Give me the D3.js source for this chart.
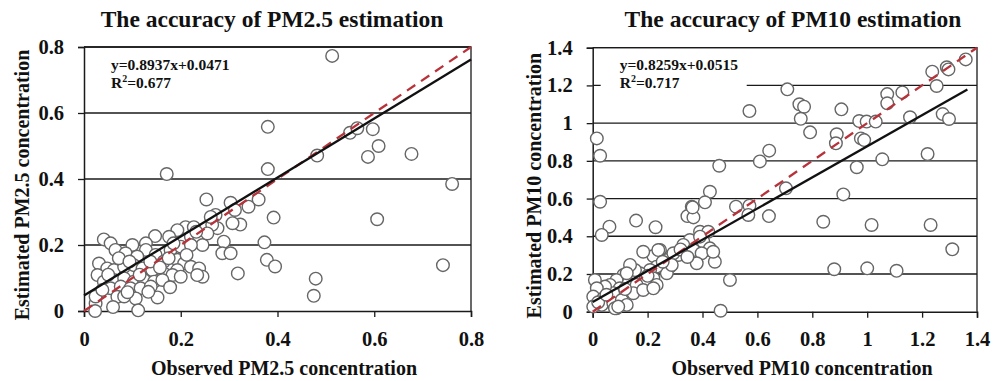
<!DOCTYPE html>
<html>
<head>
<meta charset="utf-8">
<script src="https://cdn.jsdelivr.net/npm/d3@7"></script>
<style>
  body { margin: 0; background: #fff; }
  svg text { font-family: "Liberation Serif", "Times New Roman", serif; font-weight: bold; fill: #111; }
</style>
</head>
<body>
<svg id="chart" width="1003" height="381"></svg>
<script>
// PM2.5 panel: [observed, estimated]
const pm25Points = [
  [0.513,0.773],[0.380,0.558],[0.380,0.430],[0.482,0.471],[0.550,0.540],[0.565,0.554],[0.597,0.551],
  [0.609,0.500],[0.587,0.467],[0.677,0.476],[0.761,0.385],[0.361,0.338],[0.340,0.316],[0.392,0.283],
  [0.606,0.278],[0.373,0.208],[0.378,0.155],[0.395,0.135],[0.742,0.139],[0.479,0.098],[0.475,0.046],
  [0.323,0.262],[0.318,0.114],[0.171,0.415],
  [0.253,0.338],[0.303,0.328],[0.312,0.306],[0.272,0.291],[0.307,0.266],[0.276,0.251],[0.265,0.261],
  [0.210,0.254],[0.227,0.254],[0.193,0.245],[0.176,0.225],[0.147,0.227],[0.221,0.225],[0.238,0.225],
  [0.289,0.210],[0.245,0.200],[0.286,0.175],[0.303,0.175],
  [0.041,0.217],[0.055,0.205],[0.065,0.185],[0.100,0.200],[0.128,0.205],[0.128,0.185],[0.086,0.175],
  [0.110,0.165],[0.148,0.170],[0.179,0.185],[0.200,0.195],[0.221,0.200],[0.193,0.155],[0.165,0.150],
  [0.207,0.144],[0.221,0.134],[0.238,0.129],[0.245,0.104],[0.193,0.124],
  [0.031,0.144],[0.048,0.129],[0.028,0.109],[0.062,0.124],[0.083,0.134],[0.103,0.139],[0.121,0.129],
  [0.141,0.124],[0.165,0.114],[0.183,0.109],[0.200,0.104],[0.234,0.109],
  [0.041,0.089],[0.062,0.094],[0.083,0.099],[0.103,0.089],[0.124,0.094],[0.145,0.089],[0.162,0.094],
  [0.055,0.069],[0.076,0.074],[0.096,0.069],[0.117,0.069],[0.138,0.074],[0.178,0.072],
  [0.107,0.038],[0.152,0.041],[0.069,0.043],[0.024,0.023],[0.060,0.012],[0.112,0.002],[0.023,0.000],
  [0.024,0.044],[0.083,0.044],[0.038,0.064],
  [0.072,0.160],[0.094,0.150],[0.137,0.150],[0.157,0.132],[0.175,0.160],[0.212,0.170],[0.255,0.235],
  [0.050,0.110],[0.115,0.110],[0.133,0.058],[0.090,0.057],[0.185,0.205],[0.232,0.240],[0.262,0.285]
];

// PM10 panel: [observed, estimated]
const pm10Points = [
  [1.359,1.338],[1.290,1.296],[1.296,1.285],[1.237,1.273],[1.253,1.197],[0.709,1.179],[0.571,1.064],
  [0.753,1.100],[0.770,1.087],[0.758,1.023],[0.792,0.951],[0.906,1.073],[0.889,0.941],[0.886,0.893],
  [0.971,1.011],[0.998,1.008],[1.031,1.008],[0.977,0.919],[0.989,0.910],[1.073,1.154],[1.073,1.105],
  [1.128,1.163],[1.156,1.031],[1.275,1.048],[1.298,1.022],[1.220,0.836],[1.055,0.808],[0.962,0.766],
  [0.643,0.854],[0.609,0.797],[0.461,0.774],[0.704,0.654],[0.913,0.622],[0.427,0.636],[0.409,0.580],
  [0.522,0.557],[0.571,0.562],[0.567,0.513],[0.642,0.507],[0.840,0.477],[1.016,0.460],[1.231,0.460],
  [1.310,0.331],[0.880,0.225],[1.000,0.230],[1.107,0.217],[0.500,0.168],[0.466,0.005],[0.445,0.265],
  [0.421,0.327],[0.015,0.919],[0.027,0.827],
  [0.027,0.583],[0.061,0.451],[0.033,0.407],[0.158,0.483],[0.229,0.448],[0.361,0.557],[0.345,0.507],
  [0.367,0.500],[0.364,0.553],
  [0.391,0.424],[0.421,0.424],[0.403,0.371],[0.354,0.380],[0.330,0.354],[0.367,0.327],[0.427,0.336],
  [0.397,0.310],[0.379,0.257],[0.312,0.301],[0.282,0.292],[0.245,0.327],[0.221,0.295],[0.184,0.318],
  [0.282,0.239],[0.270,0.204],[0.233,0.239],[0.209,0.221],[0.172,0.204],[0.221,0.177],[0.233,0.142],
  [0.191,0.168],[0.154,0.221],[0.136,0.248],[0.112,0.195],[0.130,0.151],[0.160,0.142],[0.087,0.168],
  [0.063,0.142],[0.099,0.124],[0.075,0.098],[0.045,0.133],[0.008,0.168],[0.015,0.124],[0.002,0.080],
  [0.039,0.071],[0.033,0.036],[0.075,0.045],[0.106,0.062],[0.124,0.036],[0.087,0.018],[0.002,0.027],
  [0.148,0.098],[0.184,0.115],[0.270,0.274],[0.294,0.310],[0.391,0.398],[0.221,0.124],[0.081,0.018],
  [0.093,0.027],[0.439,0.318],[0.288,0.248],[0.239,0.327],[0.124,0.204],
  [0.020,0.050],[0.050,0.090],[0.118,0.120],[0.200,0.190],[0.255,0.265],[0.320,0.330],[0.345,0.290]
];

const pm25Ticks = [0, 0.2, 0.4, 0.6, 0.8];
const pm10Ticks = [0, 0.2, 0.4, 0.6, 0.8, 1, 1.2, 1.4];

// fit lines: slope, intercept, x range
const pm25Fit = { slope: 0.8937, intercept: 0.0471, xEnd: 0.8 };
const pm10Fit = { slope: 0.8259, intercept: 0.0515, xEnd: 1.365 };

const svg = d3.select("#chart");

function drawPanel(cfg) {
  const x = d3.scaleLinear().domain([0, cfg.max]).range([cfg.left, cfg.right]);
  const y = d3.scaleLinear().domain([0, cfg.max]).range([cfg.bottom, cfg.top]);
  const g = svg.append("g");

  // grid lines
  g.selectAll("line.grid")
    .data(cfg.ticks.filter(d => d > 0))
    .join("line")
    .attr("x1", cfg.left).attr("x2", cfg.right)
    .attr("y1", d => y(d)).attr("y2", d => y(d))
    .attr("stroke", "#1a1a1a").attr("stroke-width", 1.3);

  // frame top and right
  g.append("path")
    .attr("d", `M${cfg.left},${cfg.top}H${cfg.right}V${cfg.bottom}`)
    .attr("fill", "none").attr("stroke", "#1a1a1a").attr("stroke-width", 1.3);

  // annotation box
  g.append("rect")
    .attr("x", cfg.left + 8).attr("y", 54)
    .attr("width", 146).attr("height", 42)
    .attr("fill", "#fff");
  g.append("text").attr("x", cfg.left + 27).attr("y", 70)
    .attr("font-size", 15.5).text(cfg.eq);
  const r2 = g.append("text").attr("x", cfg.left + 27).attr("y", 88).attr("font-size", 15.5);
  r2.append("tspan").text("R");
  r2.append("tspan").attr("font-size", 10).attr("dy", -6).text("2");
  r2.append("tspan").attr("dy", 6).text("=" + cfg.r2);

  // axes
  const xAxis = g.append("g")
    .attr("transform", `translate(0,${cfg.bottom})`)
    .call(d3.axisBottom(x).tickValues(cfg.ticks).tickFormat(d3.format("")).tickSize(6).tickPadding(14));
  const yAxis = g.append("g")
    .attr("transform", `translate(${cfg.left},0)`)
    .call(d3.axisLeft(y).tickValues(cfg.ticks).tickFormat(d3.format("")).tickSize(6).tickPadding(14));
  [xAxis, yAxis].forEach(a => {
    a.select(".domain").attr("stroke", "#1a1a1a").attr("stroke-width", 1.5);
    a.selectAll(".tick line").attr("stroke", "#1a1a1a").attr("stroke-width", 1.3);
    a.selectAll(".tick text").attr("font-size", 20.5).attr("fill", "#111")
      .style("font-family", "'Liberation Serif', serif").style("font-weight", "bold");
  });

  // points
  g.selectAll("circle")
    .data(cfg.points)
    .join("circle")
    .attr("cx", d => x(d[0]))
    .attr("cy", d => y(d[1]))
    .attr("r", 6.3)
    .attr("fill", "#fff")
    .attr("stroke", "#666")
    .attr("stroke-width", 1.4);

  // 1:1 line
  g.append("line")
    .attr("x1", x(0)).attr("y1", y(0))
    .attr("x2", x(cfg.max)).attr("y2", y(cfg.max))
    .attr("stroke", "#b8323a").attr("stroke-width", 2.3)
    .attr("stroke-dasharray", "10,7");

  // regression line
  g.append("line")
    .attr("x1", x(0)).attr("y1", y(cfg.fit.intercept))
    .attr("x2", x(cfg.fit.xEnd)).attr("y2", y(cfg.fit.slope * cfg.fit.xEnd + cfg.fit.intercept))
    .attr("stroke", "#111").attr("stroke-width", 2.3);

  // titles
  g.append("text").attr("x", cfg.titleX).attr("y", 27)
    .attr("text-anchor", "middle").attr("font-size", 23.5).text(cfg.title);
  g.append("text").attr("x", cfg.xLabelX).attr("y", 375)
    .attr("text-anchor", "middle").attr("font-size", 20).text(cfg.xLabel);
  g.append("text")
    .attr("transform", `translate(${cfg.yLabelX},${(cfg.top + cfg.bottom) / 2 + 6}) rotate(-90)`)
    .attr("text-anchor", "middle").attr("font-size", 20).text(cfg.yLabel);
}

drawPanel({
  left: 84, right: 471, top: 47, bottom: 311, max: 0.8,
  ticks: pm25Ticks, points: pm25Points, fit: pm25Fit,
  eq: "y=0.8937x+0.0471", r2: "0.677",
  title: "The accuracy of PM2.5 estimation", titleX: 272,
  xLabelX: 284, xLabel: "Observed PM2.5 concentration",
  yLabel: "Estimated PM2.5 concentration", yLabelX: 29
});

drawPanel({
  left: 592.7, right: 977, top: 47.7, bottom: 311.7, max: 1.4,
  ticks: pm10Ticks, points: pm10Points, fit: pm10Fit,
  eq: "y=0.8259x+0.0515", r2: "0.717",
  title: "The accuracy of PM10 estimation", titleX: 793,
  xLabelX: 802, xLabel: "Observed PM10 concentration",
  yLabel: "Estimated PM10 concentration", yLabelX: 541
});
</script>
</body>
</html>
